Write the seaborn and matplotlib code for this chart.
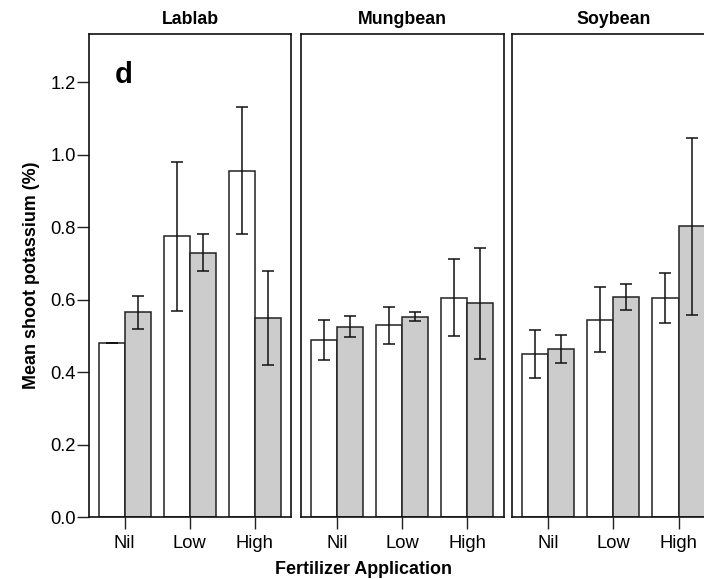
import matplotlib
matplotlib.use("Agg")
import matplotlib.pyplot as plt
import seaborn as sns
import pandas as pd
import numpy as np

# ---- data ----
crops = ["Lablab", "Mungbean", "Soybean"]
fert_levels = ["Nil", "Low", "High"]
groups = ["A", "B"]  # white bars, grey bars

# means per crop: [Nil, Low, High]
white_mean = {
    "Lablab":   [0.480, 0.775, 0.955],
    "Mungbean": [0.490, 0.530, 0.606],
    "Soybean":  [0.450, 0.545, 0.605],
}
grey_mean = {
    "Lablab":   [0.565, 0.730, 0.550],
    "Mungbean": [0.526, 0.553, 0.590],
    "Soybean":  [0.464, 0.607, 0.803],
}
# error bar ends (low, high)
white_lo = {
    "Lablab":   [0.480, 0.570, 0.780],
    "Mungbean": [0.435, 0.479, 0.499],
    "Soybean":  [0.384, 0.455, 0.536],
}
white_hi = {
    "Lablab":   [0.480, 0.980, 1.131],
    "Mungbean": [0.545, 0.580, 0.713],
    "Soybean":  [0.516, 0.634, 0.673],
}
grey_lo = {
    "Lablab":   [0.520, 0.679, 0.420],
    "Mungbean": [0.497, 0.541, 0.437],
    "Soybean":  [0.425, 0.571, 0.557],
}
grey_hi = {
    "Lablab":   [0.610, 0.780, 0.679],
    "Mungbean": [0.556, 0.566, 0.743],
    "Soybean":  [0.504, 0.644, 1.047],
}
yticks = [0.0, 0.2, 0.4, 0.6, 0.8, 1.0, 1.2]

rows = []
for c in crops:
    for i, f in enumerate(fert_levels):
        rows.append(dict(crop=c, fert=f, group="A", mean=white_mean[c][i],
                         lo=white_lo[c][i], hi=white_hi[c][i]))
        rows.append(dict(crop=c, fert=f, group="B", mean=grey_mean[c][i],
                         lo=grey_lo[c][i], hi=grey_hi[c][i]))
df = pd.DataFrame(rows)

sns.set_style("white")
plt.rcParams["font.family"] = ["Liberation Sans", "DejaVu Sans"]
plt.rcParams["text.color"] = "black"
plt.rcParams["axes.labelcolor"] = "black"
plt.rcParams["xtick.color"] = "black"
plt.rcParams["ytick.color"] = "black"

W, H = 704, 579
fig = plt.figure(figsize=(W / 100, H / 100), dpi=100)

panel_w = 202.5
lefts = [88.7, 301.0, 512.3]
top_px, bot_px = 34.0, 517.3

edge = "#222222"
for k, c in enumerate(crops):
    ax = fig.add_axes([lefts[k] / W, (H - bot_px) / H, panel_w / W, (bot_px - top_px) / H])
    sub = df[df.crop == c]
    sns.barplot(data=sub, x="fert", y="mean", hue="group", order=fert_levels,
                hue_order=groups, palette=["white", "#cccccc"], saturation=1,
                edgecolor=edge, linewidth=1.1, errorbar=None, legend=False,
                width=0.8, ax=ax)
    for cont, g in zip(ax.containers, groups):
        gd = sub[sub.group == g].set_index("fert").loc[fert_levels]
        xs = [p.get_x() + p.get_width() / 2 for p in cont.patches]
        ys = gd["mean"].values
        yerr = np.vstack([ys - gd["lo"].values, gd["hi"].values - ys])
        ax.errorbar(xs, ys, yerr=yerr, fmt="none", ecolor="#111111",
                    elinewidth=1.1, capsize=4.2, capthick=1.1, zorder=5)
    ax.set_xlim(-0.551, 2.557)
    ax.set_ylim(0, 1.333)
    ax.set_xlabel("")
    ax.set_title(c, fontsize=12.8, fontweight="bold", pad=7, color="black")
    for s in ax.spines.values():
        s.set_visible(True)
        s.set_color("#111111")
        s.set_linewidth(1.2)
    ax.tick_params(axis="x", length=8.5, width=1.0, color="#222222",
                   labelsize=13.2, pad=4.5, bottom=True, labelcolor="black")
    if k == 0:
        ax.set_yticks(yticks)
        ax.set_yticklabels([f"{v:.1f}" for v in yticks])
        ax.tick_params(axis="y", length=8.5, width=1.0, color="#222222",
                       labelsize=13.2, pad=1, left=True, labelcolor="black")
        ax.set_ylabel("Mean shoot potassium (%)", fontsize=12.9, fontweight="bold",
                      labelpad=7, color="black")
        ax.text(0.13, 0.915, "d", transform=ax.transAxes, fontsize=21,
                fontweight="bold", va="center", ha="left", color="black")
    else:
        ax.set_yticks(yticks)
        ax.tick_params(axis="y", left=False, labelleft=False)
        ax.set_ylabel("")

fig.text(363.5 / W, 1 - 569 / H, "Fertilizer Application", ha="center", va="center",
         fontsize=12.9, fontweight="bold", color="black")

fig.savefig("out.png", dpi=100)
